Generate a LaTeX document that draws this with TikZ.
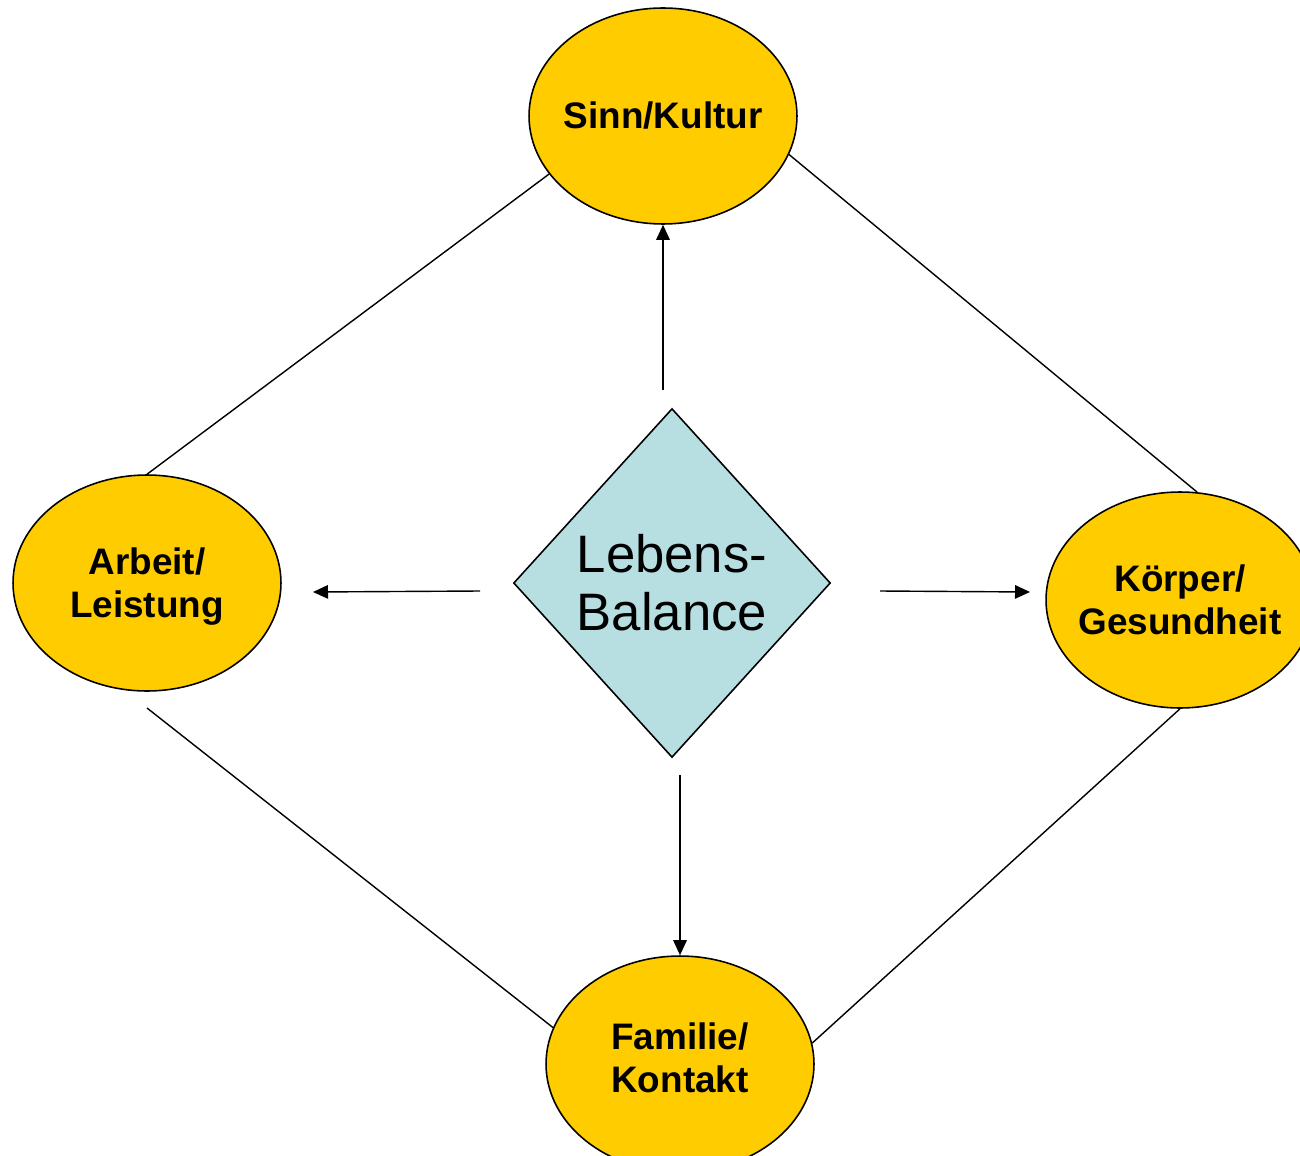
\documentclass[tikz,border=0pt]{standalone}
\usepackage{fontspec}
\setmainfont{Liberation Sans}
\usetikzlibrary{shapes.geometric,arrows.meta}
\definecolor{ellyellow}{HTML}{FFCC00}
\definecolor{diablue}{HTML}{B7DFE2}
\tikzset{
  topic/.style={ellipse, draw=black, line width=0.9pt, fill=ellyellow, inner sep=0pt,
    minimum width=5.36cm, minimum height=4.32cm},
  toptext/.style={align=center, inner sep=0pt,
    font=\fontsize{21}{24.5}\selectfont\bfseries},
  centre/.style={diamond, draw=black, line width=0.9pt, fill=diablue, inner sep=0pt,
    minimum width=6.34cm, minimum height=6.98cm, align=center,
    font=\fontsize{30}{33}\selectfont},
  link/.style={line width=0.8pt},
  arr/.style={line width=0.8pt, -{Triangle[length=0.3cm, width=0.27cm]}}
}
\begin{document}
\begin{tikzpicture}[x=0.02cm, y=-0.02cm]
\useasboundingbox (0,0) rectangle (1300,1155);
\node[topic, label={[toptext, name=sinntext]center:Sinn/Kultur}] (sinn) at (663,116) {};
\node[topic, label={[toptext, name=arbeittext, yshift=-0.08cm]center:Arbeit/\\Leistung}] (arbeit) at (147,583) {};
\node[topic, label={[toptext, name=koerpertext]center:Körper/\\Gesundheit}] (koerper) at (1180,600) {};
\node[topic, label={[toptext, name=familietext, yshift=0.12cm]center:Familie/\\Kontakt}] (familie) at (680,1064) {};
\node[centre] (lb) at (672,583) {Lebens-\\Balance};
% connecting lines
\coordinate (arbeitfree) at (147,708);
\draw[link] (sinn.207) -- (arbeit.north);
\draw[link] (sinn.343) -- (koerper.81);
\draw[link] (arbeitfree) -- (familie.164);
\draw[link] (koerper.south) -- (familie.9);
% arrows
\coordinate (upstart) at (663,390);
\coordinate (leftstart) at (480,591);
\coordinate (lefttip) at (313,592);
\coordinate (rightstart) at (880,591);
\coordinate (righttip) at (1030,592);
\coordinate (downstart) at (680,775);
\draw[arr] (upstart) -- (sinn.south);
\draw[arr] (leftstart) -- (lefttip);
\draw[arr] (rightstart) -- (righttip);
\draw[arr] (downstart) -- (familie.north);
\end{tikzpicture}
\end{document}
